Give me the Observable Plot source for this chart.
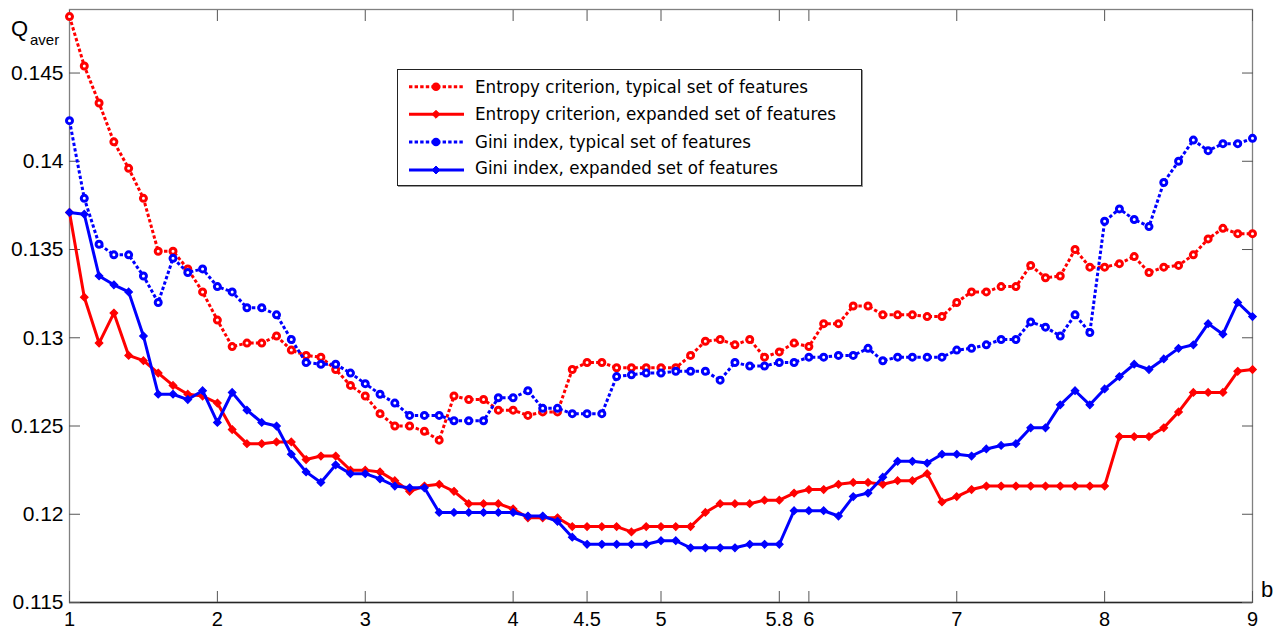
<!DOCTYPE html>
<html><head><meta charset="utf-8">
<script src="https://cdn.jsdelivr.net/npm/d3@7"></script>
<script src="https://cdn.jsdelivr.net/npm/@observablehq/plot@0.6"></script>
<style>
body{margin:0;background:#fff;}
#wrap{position:relative;width:1279px;height:630px;overflow:hidden;}
#legend{position:absolute;left:397px;top:69px;}
</style></head><body><div id="wrap"></div>
<script>
const b = [
  1.0,1.1,1.2,1.3,1.4,1.5,1.6,1.7,1.8,1.9,
  2.0,2.1,2.2,2.3,2.4,2.5,2.6,2.7,2.8,2.9,
  3.0,3.1,3.2,3.3,3.4,3.5,3.6,3.7,3.8,3.9,
  4.0,4.1,4.2,4.3,4.4,4.5,4.6,4.7,4.8,4.9,
  5.0,5.1,5.2,5.3,5.4,5.5,5.6,5.7,5.8,5.9,
  6.0,6.1,6.2,6.3,6.4,6.5,6.6,6.7,6.8,6.9,
  7.0,7.1,7.2,7.3,7.4,7.5,7.6,7.7,7.8,7.9,
  8.0,8.1,8.2,8.3,8.4,8.5,8.6,8.7,8.8,8.9,
  9.0
];
const entropyTypical = [
  0.1482,0.1454,0.1433,0.1411,0.1396,0.1379,0.1349,0.1349,0.1339,0.1326,
  0.1310,0.1295,0.1297,0.1297,0.1301,0.1293,0.1290,0.1289,0.1282,0.1273,
  0.1267,0.1257,0.1250,0.1250,0.1247,0.1242,0.1267,0.1265,0.1265,0.1259,
  0.1259,0.1256,0.1258,0.1258,0.1282,0.1286,0.1286,0.1283,0.1283,0.1283,
  0.1283,0.1283,0.1290,0.1298,0.1299,0.1296,0.1299,0.1289,0.1292,0.1297,
  0.1295,0.1308,0.1308,0.1318,0.1318,0.1313,0.1313,0.1313,0.1312,0.1312,
  0.1320,0.1326,0.1326,0.1329,0.1329,0.1341,0.1334,0.1335,0.1350,0.1340,
  0.1340,0.1342,0.1346,0.1337,0.1340,0.1341,0.1347,0.1356,0.1362,0.1359,
  0.1359
];
const entropyExpanded = [
  0.1371,0.1323,0.1297,0.1314,0.1290,0.1287,0.1280,0.1273,0.1268,0.1267,
  0.1263,0.1248,0.1240,0.1240,0.1241,0.1241,0.1231,0.1233,0.1233,0.1225,
  0.1225,0.1224,0.1219,0.1213,0.1216,0.1217,0.1213,0.1206,0.1206,0.1206,
  0.1203,0.1198,0.1198,0.1198,0.1193,0.1193,0.1193,0.1193,0.1190,0.1193,
  0.1193,0.1193,0.1193,0.1201,0.1206,0.1206,0.1206,0.1208,0.1208,0.1212,
  0.1214,0.1214,0.1217,0.1218,0.1218,0.1217,0.1219,0.1219,0.1223,0.1207,
  0.1210,0.1214,0.1216,0.1216,0.1216,0.1216,0.1216,0.1216,0.1216,0.1216,
  0.1216,0.1244,0.1244,0.1244,0.1249,0.1258,0.1269,0.1269,0.1269,0.1281,
  0.1282
];
const giniTypical = [
  0.1423,0.1379,0.1353,0.1347,0.1347,0.1335,0.1320,0.1345,0.1337,0.1339,
  0.1329,0.1326,0.1317,0.1317,0.1313,0.1299,0.1286,0.1285,0.1285,0.1280,
  0.1274,0.1268,0.1263,0.1256,0.1256,0.1256,0.1253,0.1253,0.1253,0.1266,
  0.1266,0.1270,0.1260,0.1260,0.1257,0.1257,0.1257,0.1278,0.1279,0.1280,
  0.1280,0.1281,0.1281,0.1281,0.1276,0.1286,0.1284,0.1284,0.1286,0.1286,
  0.1289,0.1289,0.1290,0.1290,0.1294,0.1287,0.1289,0.1289,0.1289,0.1289,
  0.1293,0.1294,0.1296,0.1299,0.1299,0.1309,0.1306,0.1301,0.1313,0.1303,
  0.1366,0.1373,0.1367,0.1363,0.1388,0.1400,0.1412,0.1406,0.1410,0.1410,
  0.1413
];
const giniExpanded = [
  0.1371,0.1370,0.1335,0.1330,0.1326,0.1301,0.1268,0.1268,0.1265,0.1270,
  0.1252,0.1269,0.1259,0.1252,0.1250,0.1234,0.1224,0.1218,0.1228,0.1223,
  0.1223,0.1220,0.1216,0.1215,0.1215,0.1201,0.1201,0.1201,0.1201,0.1201,
  0.1201,0.1199,0.1199,0.1196,0.1187,0.1183,0.1183,0.1183,0.1183,0.1183,
  0.1185,0.1185,0.1181,0.1181,0.1181,0.1181,0.1183,0.1183,0.1183,0.1202,
  0.1202,0.1202,0.1199,0.1210,0.1212,0.1221,0.1230,0.1230,0.1229,0.1234,
  0.1234,0.1233,0.1237,0.1239,0.1240,0.1249,0.1249,0.1262,0.1270,0.1262,
  0.1271,0.1278,0.1285,0.1282,0.1288,0.1294,0.1296,0.1308,0.1302,0.1320,
  0.1312
];
const seriesNames = [
  "Entropy criterion, typical set of features",
  "Entropy criterion, expanded set of features",
  "Gini index, typical set of features",
  "Gini index, expanded set of features"
];
const xTicks = [1, 2, 3, 4, 4.5, 5, 5.8, 6, 7, 8, 9];
const yTicks = [0.115, 0.12, 0.125, 0.13, 0.135, 0.14, 0.145];

const series = [
  {name: seriesNames[0], color: "#ff0000", dotted: true,  values: entropyTypical, textW: 333},
  {name: seriesNames[1], color: "#ff0000", dotted: false, values: entropyExpanded, textW: 361},
  {name: seriesNames[2], color: "#0000ff", dotted: true,  values: giniTypical, textW: 276},
  {name: seriesNames[3], color: "#0000ff", dotted: false, values: giniExpanded, textW: 303}
];
const DASH = "3.4,2.2";

const marks = [
  Plot.frame({stroke: "#808080", strokeWidth: 1.3}),
  Plot.ruleY([yTicks[0]], {stroke: "#262626", strokeWidth: 1.3}),
  Plot.axisX(xTicks, {anchor: "bottom", tickSize: -11, fill: "none", stroke: "#555", label: null}),
  Plot.axisX(xTicks, {anchor: "top", tickSize: -11, fill: "none", stroke: "#555", label: null}),
  Plot.axisY(yTicks, {anchor: "left", tickSize: -11, fill: "none", stroke: "#555", label: null}),
  Plot.axisY(yTicks, {anchor: "right", tickSize: -11, fill: "none", stroke: "#555", label: null}),
  Plot.axisX(xTicks, {anchor: "bottom", tickSize: 0, tickPadding: 9, fontSize: 20, label: null, tickFormat: d => String(d)}),
  Plot.axisY(yTicks, {anchor: "left", tickSize: 0, tickPadding: 6, fontSize: 21, label: null, tickFormat: d => String(d)})
];
series.forEach(s => {
  const data = b.map((x, i) => ({b: x, q: s.values[i]}));
  marks.push(Plot.line(data, {x: "b", y: "q", stroke: s.color, strokeWidth: 3,
    strokeDasharray: s.dotted ? DASH : undefined, strokeLinejoin: "round",
    strokeLinecap: s.dotted ? "butt" : "round"}));
  if (s.dotted) {
    marks.push(Plot.dot(data, {x: "b", y: "q", r: 3, stroke: s.color, strokeWidth: 3, fill: "white"}));
  } else {
    marks.push(Plot.dot(data, {x: "b", y: "q", r: 3.4, symbol: "diamond2", fill: s.color, stroke: s.color, strokeWidth: 1.2}));
  }
});

const chart = Plot.plot({
  width: 1279,
  height: 630,
  marginLeft: 69,
  marginRight: 27,
  marginTop: 9,
  marginBottom: 28,
  style: {fontFamily: "'Liberation Sans', Arial, sans-serif", fontSize: "20px", color: "#000", background: "#fff"},
  x: {domain: [1, 9]},
  y: {domain: [0.115, 0.1486]},
  marks
});
document.getElementById("wrap").appendChild(chart);

// axis titles
const svg = d3.select(chart);
const labelFont = "'Liberation Sans', Arial, sans-serif";
svg.append("text").attr("x", 11).attr("y", 36).attr("text-anchor", "start").attr("font-size", 22).attr("font-family", labelFont).attr("fill", "#000").text("Q");
svg.append("text").attr("x", 30).attr("y", 44.5).attr("text-anchor", "start").attr("font-size", 15).attr("font-family", labelFont).attr("fill", "#000").text("aver");
svg.append("text").attr("x", 1261).attr("y", 597).attr("text-anchor", "start").attr("font-size", 22).attr("font-family", labelFont).attr("fill", "#000").text("b");

// legend
const lw = 467, lh = 119;
const leg = d3.select("#wrap").append("svg").attr("id", "legend").attr("width", lw).attr("height", lh);
leg.append("rect").attr("x", 1.5).attr("y", 1.5).attr("width", lw - 3).attr("height", lh - 3).attr("fill", "white").attr("stroke", "#999").attr("stroke-width", 1);
leg.append("rect").attr("x", 0.5).attr("y", 0.5).attr("width", lw - 3).attr("height", lh - 3).attr("fill", "white").attr("stroke", "#222").attr("stroke-width", 1);
const lineY = [17.7, 45.3, 73, 101];
const textY = [23.7, 51.3, 78.7, 105.3];
series.forEach((s, i) => {
  leg.append("line").attr("x1", 12).attr("x2", 67).attr("y1", lineY[i]).attr("y2", lineY[i])
    .attr("stroke", s.color).attr("stroke-width", 3).attr("stroke-dasharray", s.dotted ? DASH : null);
  if (s.dotted) {
    leg.append("circle").attr("cx", 39).attr("cy", lineY[i]).attr("r", 4.3).attr("fill", s.color);
  } else {
    leg.append("path").attr("d", d3.symbol(d3.symbolDiamond2, 40)()).attr("transform", `translate(39,${lineY[i]})`).attr("fill", s.color).attr("stroke", s.color);
  }
  leg.append("text").attr("x", 78).attr("y", textY[i]).attr("font-size", 17)
    .attr("font-family", "'DejaVu Sans Condensed', 'DejaVu Sans', sans-serif")
    .attr("textLength", s.textW).attr("lengthAdjust", "spacingAndGlyphs")
    .attr("fill", "#000").text(s.name);
});
</script></body></html>
